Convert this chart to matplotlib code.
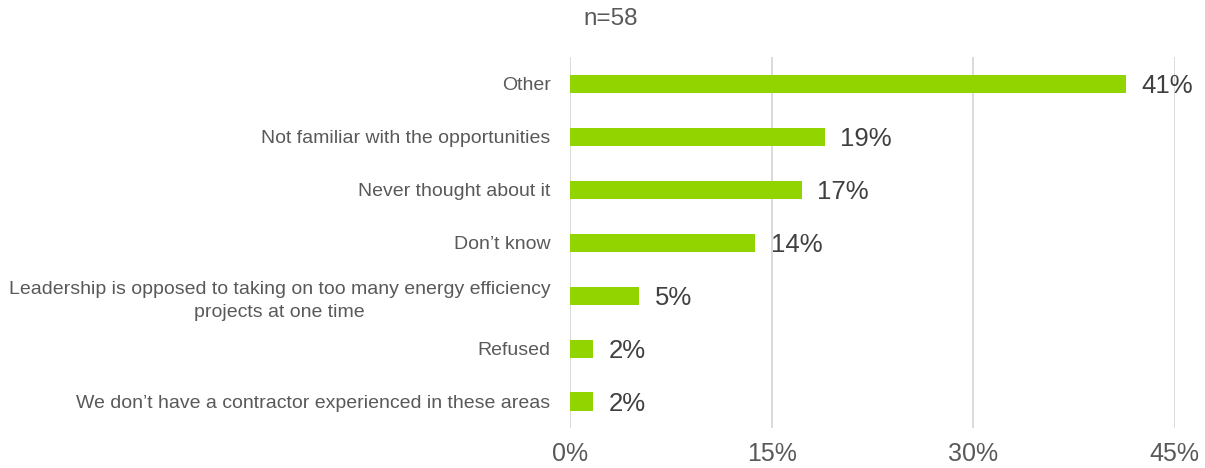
import numpy as np
import matplotlib.pyplot as plt

plt.rcParams['font.family'] = ['Liberation Sans', 'DejaVu Sans']

# survey responses, n=58
n_total = 58
categories = [
    "Other",
    "Not familiar with the opportunities",
    "Never thought about it",
    "Don\u2019t know",
    "Leadership is opposed to taking on too many energy efficiency\nprojects at one time",
    "Refused",
    "We don\u2019t have a contractor experienced in these areas",
]
counts = [24, 11, 10, 8, 3, 1, 1]
xticks = [0, 15, 30, 45]

pct = [c / n_total * 100 for c in counts]

fig = plt.figure(figsize=(12.05, 4.68), dpi=100)
ax = fig.add_axes([0.473, 0.0855, 0.502, 0.7925])

y = np.arange(len(categories))
ax.barh(y, pct, height=0.34, color='#92D400', zorder=3)

for yi, p in zip(y, pct):
    ax.annotate("{:.0f}%".format(p), (p, yi), xytext=(11, 0),
                textcoords='offset points', va='center_baseline', ha='left',
                fontsize=18.5, color='#404040')

ax.set_ylim(len(categories) - 0.5, -0.5)
ax.set_xlim(0, 45)
ax.set_yticks(y)
ax.set_yticklabels(categories, fontsize=14, color='#595959', ha='right',
                   multialignment='center', linespacing=1.5)
ax.set_xticks(xticks)
ax.set_xticklabels(["{}%".format(t) for t in xticks], fontsize=18, color='#595959')
ax.tick_params(axis='both', length=0)
ax.tick_params(axis='y', pad=14)
ax.tick_params(axis='x', pad=10)
ax.xaxis.grid(True, color='#D4D4D4', lw=1.2, zorder=0)

for s in ax.spines.values():
    s.set_visible(False)

fig.text(0.507, 0.96, "n=58", ha='center', va='center', fontsize=17.5, color='#595959')

fig.savefig('out.png', dpi=100, facecolor='white')
